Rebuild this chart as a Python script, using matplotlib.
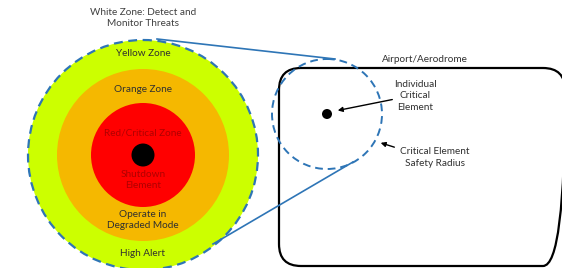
import matplotlib.pyplot as plt
from matplotlib.patches import Circle, FancyBboxPatch

plt.rcParams['font.family'] = ['Lato', 'DejaVu Sans']

# target zones (pixel coords, y down)
zone_center = (143, 155)
zone_radii = [115, 86, 52]
zone_colors = ['#ccff00', '#f5b800', '#ff0000']
dot_radius = 11.5

zone_labels = ['White Zone: Detect and\nMonitor Threats', 'Yellow Zone', 'Orange Zone',
               'Red/Critical Zone', 'Shutdown\nElement', 'Operate in\nDegraded Mode', 'High Alert']
zone_label_y = [18, 54, 90, 133, 180, 220, 253]
zone_label_colors = ['#404040', '#303030', '#303030', '#b00000', '#b00000', '#303030', '#303030']

# airport
airport_box = (279, 68, 286, 198)
element_center = (327, 114)
element_radius = 55
element_dot = 5

blue = '#2e75b6'

fig = plt.figure(figsize=(5.62, 2.68), dpi=100)
ax = fig.add_axes([0, 0, 1, 1])
ax.set_xlim(0, 562)
ax.set_ylim(268, 0)
ax.set_aspect('equal')
ax.axis('off')

for r, c in zip(zone_radii, zone_colors):
    ax.add_patch(Circle(zone_center, r, facecolor=c, edgecolor='none'))
ax.add_patch(Circle(zone_center, zone_radii[0], facecolor='none', edgecolor=blue,
                    lw=1.6, ls=(0, (4, 2.5))))
ax.add_patch(Circle(zone_center, dot_radius, facecolor='black'))

for txt, y, c in zip(zone_labels, zone_label_y, zone_label_colors):
    ax.text(zone_center[0], y, txt, ha='center', va='center', fontsize=7.2, color=c,
            linespacing=1.35)

# airport box
x0, y0, w, h = airport_box
pad = 22
ax.add_patch(FancyBboxPatch((x0 + pad, y0 + pad), w - 2 * pad, h - 2 * pad,
                            boxstyle='round,pad=%d' % pad, facecolor='none',
                            edgecolor='black', lw=1.6, clip_on=False))
ax.text(425, 60, 'Airport/Aerodrome', ha='center', va='center',
        fontsize=7.2, color='#303030')

# connector lines
ax.plot([157, 335], [39, 59], color=blue, lw=1.2)
ax.plot([213, 353], [244, 162], color=blue, lw=1.2)

ax.add_patch(Circle(element_center, element_radius, facecolor='none', edgecolor=blue,
                    lw=1.4, ls=(0, (4, 2.5))))
ax.add_patch(Circle(element_center, element_dot, facecolor='black'))

ax.text(415, 96, 'Individual\nCritical\nElement', ha='center', va='center',
        fontsize=7.2, color='#303030', linespacing=1.35)
ax.annotate('', xy=(335, 111), xytext=(395, 99),
            arrowprops=dict(arrowstyle='-|>', color='black', lw=1, mutation_scale=7))

ax.text(435, 157.5, 'Critical Element\nSafety Radius', ha='center', va='center',
        fontsize=7.2, color='#303030', linespacing=1.35)
ax.annotate('', xy=(378, 142), xytext=(397, 148),
            arrowprops=dict(arrowstyle='-|>', color='black', lw=1, mutation_scale=7))

fig.savefig('out.png', dpi=100, facecolor='white')
